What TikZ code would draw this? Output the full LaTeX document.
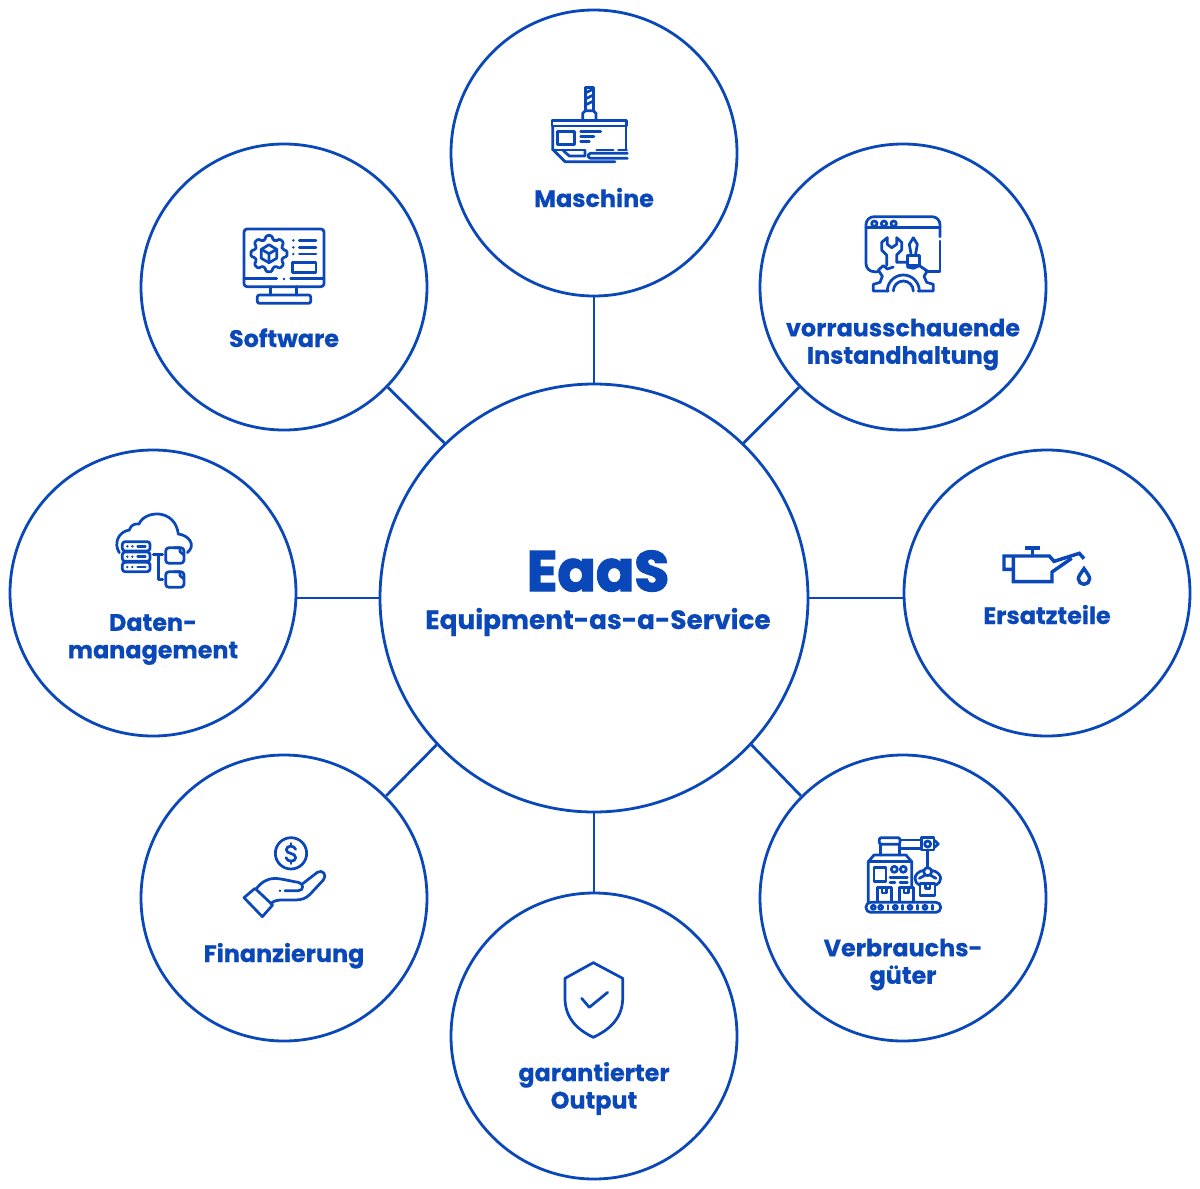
\documentclass[tikz,border=0pt]{standalone}
\usepackage{fontspec}
\setmainfont{Poppins}[BoldFeatures={FakeBold=0.5}]
\newfontfamily\heavyfont[FakeBold=2.6]{Poppins Bold}
\definecolor{eaas}{HTML}{0A47B8}
\tikzset{
  ring/.style={circle,draw=eaas,line width=2.1pt,minimum size=214.5pt,inner sep=0pt,fill=white},
  hub/.style={circle,draw=eaas,line width=2.1pt,minimum size=321pt,inner sep=0pt,fill=white},
  link/.style={draw=eaas,line width=2.1pt},
  lab/.style={text=eaas,align=center,font=\bfseries\fontsize{17.9}{20.6}\selectfont,inner sep=0pt},
  zoomed/.style={x=0.25pt,y=-0.25pt,draw=eaas,line width=2.05pt,line join=round,line cap=round},
  dotfill/.style={fill=eaas,draw=none}
}
\begin{document}
\begin{tikzpicture}[x=0.75pt,y=-0.75pt]
\useasboundingbox (0,0) rectangle (1200,1189);
\node[hub]  (c)  at (594,598) {};
\node[ring] (t)  at (594,153) {};
\node[ring] (ur) at (903,287) {};
\node[ring] (r)  at (1047,593) {};
\node[ring] (lr) at (903,898) {};
\node[ring] (b)  at (594,1036) {};
\node[ring] (ll) at (284,898) {};
\node[ring] (l)  at (153,593) {};
\node[ring] (ul) at (284,287) {};
\draw[link] (c.north) -- (t.south);
\draw[link] (c.south) -- (b.north);
\draw[link] (c.east) -- (c.east -| r.west);
\draw[link] (c.west) -- (c.west -| l.east);
\draw[link] (c.46) -- (ur.224.7);
\draw[link] (c.134.2) -- (ul.-44.6);
\draw[link] (c.-43.3) -- (lr.135);
\draw[link] (c.223.5) -- (ll.45);
% texts
\node[text=eaas,inner sep=0pt,anchor=base,font=\heavyfont\fontsize{42.5}{43}\selectfont] (tEaas) at (598,591) {EaaS};
\node[lab,anchor=base,font=\bfseries\fontsize{19.8}{22}\selectfont] (tEquip) at (598,629) {Equipment-as-a-Service};
\node[lab,anchor=base] (tM) at (594,207) {Maschine};
\node[lab] (tV) at (903,344.5) {vorrausschauende\\Instandhaltung};
\node[lab,anchor=base] (tS) at (284,347) {Software};
\node[lab] (tD) at (153,639.5) {Daten-\\management};
\node[lab,anchor=base] (tE) at (1047,624) {Ersatzteile};
\node[lab] (tC) at (903,964.5) {Verbrauchs-\\güter};
\node[lab,anchor=base] (tF) at (284,962) {Finanzierung};
\node[lab] (tG) at (594,1088.5) {garantierter\\Output};
% Maschine icon
\begin{scope}[shift={(530,70)},zoomed]
\draw (166,122) -- (166,52) -- (190,52) -- (190,122);
\draw (168,68) -- (188,58) (168,86) -- (188,76) (168,104) -- (188,94);
\draw (158,150) -- (158,130) -- (166,122) -- (190,122) -- (198,130) -- (198,150);
\draw (66,152) rectangle (290,168);
\draw (68,168) -- (68,238) -- (105,275) -- (255,275);
\draw (288,168) -- (288,240);
\draw (68,240) -- (165,240) (200,240) -- (250,240) (265,240) -- (290,240);
\draw (82,184) rectangle (134,224);
\draw (152,184) -- (212,184) (152,199) -- (192,199) (152,214) -- (178,214);
\draw (100,242) -- (118,258) -- (165,258) -- (165,242);
\draw (292,250) -- (182,250) arc (270:90:7.5) -- (292,265);
\end{scope}
% Instandhaltung icon
\begin{scope}[shift={(850,205)},zoomed]
\draw[rounded corners=6pt] (85,200) -- (48,200) -- (48,35) -- (270,35) -- (270,95);
\draw (270,108) -- (270,200) -- (228,200);
\draw (48,68) -- (270,68);
\draw (73,56) circle (8) (102,56) circle (8) (131,56) circle (8);
\draw (112,98) -- (95,112) -- (95,135) -- (110,150) -- (110,182);
\draw (112,98) -- (112,118) -- (125,128) -- (140,118) -- (140,98) -- (155,112) -- (155,135) -- (140,150) -- (140,172) -- (172,172);
\draw (190,98) -- (178,118) -- (184,152) (190,98) -- (202,118) -- (196,152);
\draw (172,152) rectangle (208,182);
\draw (115,258) -- (70,258) -- (70,238) -- (90,232) -- (97,214) -- (85,195) -- (100,182) -- (112,192) -- (130,186);
\draw (172,186) -- (190,190) -- (208,182) -- (232,198) -- (222,214) -- (230,232) -- (250,238) -- (250,258) -- (205,258);
\draw (112,258) arc (180:360:48);
\draw (130,258) arc (180:360:30);
\end{scope}
% Software icon
\begin{scope}[shift={(230,215)},zoomed]
\draw[rounded corners=2.2pt] (42,42) rectangle (282,215);
\draw (42,190) -- (140,190) (182,190) -- (282,190);
\fill[dotfill] (162,192) circle (4);
\draw (122,215) -- (122,240) (200,215) -- (200,240);
\draw[rounded corners=1.5pt] (82,240) rectangle (242,265);
\begin{scope}[shift={(117,116)}]
\draw[rounded corners=1pt] (-16:43) \foreach \a in {0,45,...,315}{ -- (\a-16:43) -- (\a-9:55) -- (\a+9:55) -- (\a+16:43)} -- cycle;
\draw (0,-27) -- (23,-13) -- (23,14) -- (0,27) -- (-23,14) -- (-23,-13) -- cycle;
\draw (-23,-13) -- (0,0) -- (23,-13) (0,0) -- (0,27);
\end{scope}
\foreach \y in {76,97,117}{
  \fill[dotfill] (190,\y) circle (4);
  \draw (208,\y) -- (258,\y);
}
\draw (187,142) rectangle (258,172);
\end{scope}
% Daten icon
\begin{scope}[shift={(100,500)},zoomed]
\draw (58,158) .. controls (40,130) and (55,95) .. (88,90) .. controls (92,75) and (105,70) .. (117,72) .. controls (135,30) and (225,25) .. (235,102) .. controls (265,105) and (290,135) .. (262,158);
\foreach \y in {125,156,187}{
  \draw[rounded corners=2pt] (67,\y) rectangle (150,\y+28);
  \fill[dotfill] (82,\y+14) circle (4) (97,\y+14) circle (4);
  \draw (113,\y+14) -- (136,\y+14);
}
\draw (160,163) -- (188,163) (175,163) -- (175,238) -- (188,238);
\foreach \y in {143,215}{
  \draw[rounded corners=2.5pt] (197,\y) rectangle (252,\y+47);
  \draw (222,\y) -- (240,\y) -- (240,\y+12) -- (252,\y+22);
}
\end{scope}
% Ersatzteile icon
\begin{scope}[shift={(990,530)},zoomed,line width=2.6pt,line cap=butt,line join=miter]
\draw (105,54) -- (150,54) (128,54) -- (128,76);
\draw (70,118) -- (42,118) -- (42,78) -- (178,78) -- (192,94) -- (268,70) -- (282,86);
\draw (70,78) -- (70,155) -- (186,155) -- (186,126) -- (245,85);
\draw (282,116) .. controls (272,130) and (265,140) .. (265,146) arc (180:0:17) .. controls (299,140) and (292,130) .. (282,116) -- cycle;
\end{scope}
% Verbrauch icon
\begin{scope}[shift={(850,825)},zoomed]
\draw[rounded corners=1.5pt] (88,58) -- (88,38) -- (150,38) -- (150,58) -- cycle;
\draw (92,58) -- (92,90) (148,58) -- (148,90);
\draw (150,45) -- (215,45) (148,70) -- (215,70);
\draw (215,38) rectangle (252,75);
\draw (233,57) circle (9);
\draw (252,45) -- (265,57) -- (252,68);
\draw (233,75) -- (233,128);
\draw (233,140) circle (12);
\draw (222,136) .. controls (205,138) and (195,150) .. (195,160) .. controls (195,170) and (200,176) .. (208,180);
\draw (244,136) .. controls (261,138) and (272,150) .. (272,160) .. controls (272,170) and (266,176) .. (258,180);
\draw (208,160) -- (226,150) (258,160) -- (240,150);
\draw (210,175) rectangle (255,212);
\draw (226,175) -- (226,190) -- (240,190) -- (240,175);
\draw (55,232) -- (55,110) -- (72,90) -- (168,90) -- (185,110) -- (185,188);
\draw (55,110) -- (185,110);
\draw (72,128) rectangle (108,170);
\draw (133,133) circle (9) (160,133) circle (9);
\draw (120,157) -- (172,157) (120,172) -- (135,172) (150,172) -- (172,172);
\foreach \x in {82,148}{
  \draw (\x,230) -- (\x,188) -- (\x+42,188) -- (\x+42,230);
  \draw (\x+14,188) -- (\x+14,204) -- (\x+28,204) -- (\x+28,188);
}
\draw[rounded corners=3.5pt] (48,232) rectangle (272,262);
\foreach \x in {70,92,136,180,225}{\draw (\x,247) circle (6);}
\foreach \x in {114,158,203,248}{\draw (\x,241) -- (\x,253);}
\end{scope}
% Finanzierung icon
\begin{scope}[shift={(230,825)},zoomed]
\draw (183,85) circle (47);
\draw (197,73) .. controls (193,60) and (170,60) .. (169,74) .. controls (168,88) and (197,82) .. (197,98) .. controls (196,112) and (172,112) .. (168,98);
\draw (183,55) -- (183,63) (183,108) -- (183,116);
\draw (42,218) -- (75,190) -- (128,240) -- (97,275) -- cycle;
\draw (80,190) .. controls (95,170) and (115,160) .. (135,160) .. controls (160,162) and (180,168) .. (205,172) .. controls (222,175) and (222,197) .. (205,197) -- (165,197);
\fill[dotfill] (150,197) circle (4);
\draw (218,176) -- (262,142) .. controls (278,132) and (292,150) .. (280,165) -- (240,208) .. controls (228,220) and (215,225) .. (195,225) -- (150,225) .. controls (140,225) and (132,228) .. (122,236);
\end{scope}
% Output icon
\begin{scope}[shift={(550,950)},zoomed]
\draw (130,38) -- (218,85) -- (218,150) .. controls (215,215) and (165,245) .. (130,262) .. controls (95,245) and (48,215) .. (45,150) -- (45,85) -- cycle;
\draw (95,145) -- (118,172) -- (173,127);
\end{scope}
\end{tikzpicture}
\end{document}
